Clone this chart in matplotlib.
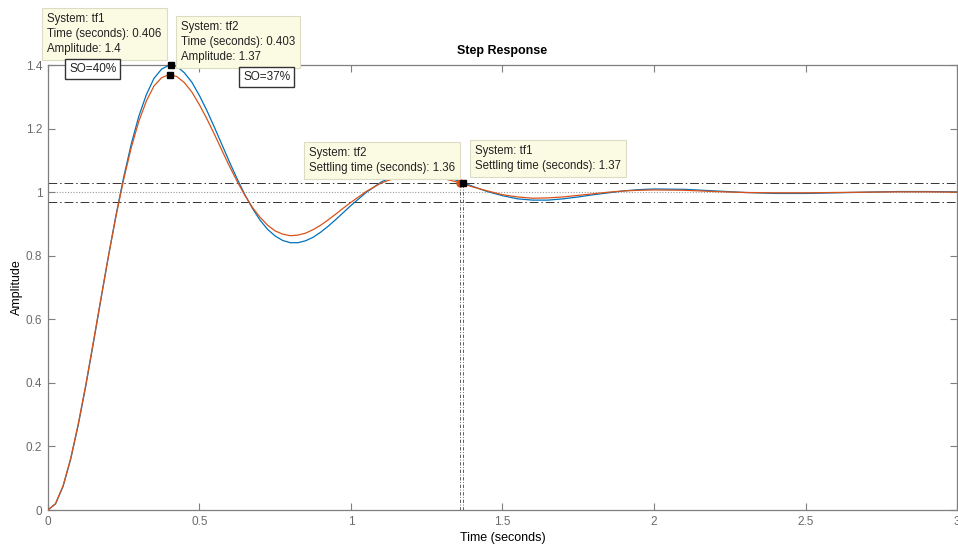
import matplotlib
matplotlib.use("Agg")
import matplotlib.pyplot as plt

plt.rcParams['font.family'] = ['Liberation Sans', 'DejaVu Sans']

# step responses of the two systems
t_fine = [0, 0.025, 0.05, 0.075, 0.1, 0.125, 0.15, 0.175, 0.2, 0.225, 0.25, 0.275,
          0.3, 0.325, 0.35, 0.375, 0.4, 0.425, 0.45, 0.475, 0.5, 0.525, 0.55, 0.575,
          0.6, 0.625, 0.65, 0.675, 0.7, 0.725, 0.75, 0.775, 0.8, 0.825, 0.85, 0.875,
          0.9, 0.925, 0.95, 0.975, 1.0]
t_mid = [1.05, 1.1, 1.15, 1.2, 1.25, 1.3, 1.35, 1.4, 1.45, 1.5, 1.55, 1.6, 1.65,
         1.7, 1.75, 1.8, 1.85, 1.9, 1.95, 2.0]
t_tail = [2.1, 2.2, 2.3, 2.4, 2.5, 2.6, 2.7, 2.8, 2.9, 3.0]
time = t_fine + t_mid + t_tail

tf1 = [0, 0.019, 0.074, 0.159, 0.267, 0.390, 0.525, 0.663, 0.800, 0.929, 1.047,
       1.151, 1.239, 1.307, 1.358, 1.387, 1.400, 1.396, 1.376, 1.346, 1.304, 1.256,
       1.203, 1.148, 1.093, 1.041, 0.992, 0.949, 0.912, 0.883, 0.862, 0.848, 0.841,
       0.841, 0.847, 0.858, 0.874, 0.893, 0.914, 0.936, 0.958,
       0.999, 1.032, 1.054, 1.063, 1.062, 1.052, 1.037, 1.019, 1.002, 0.989, 0.979,
       0.975, 0.975, 0.979, 0.985, 0.992, 0.998, 1.004, 1.008, 1.010,
       1.009, 1.004, 0.999, 0.996, 0.996, 0.998, 1.000, 1.002, 1.002, 1.001]

tf2 = [0, 0.020, 0.076, 0.162, 0.270, 0.394, 0.529, 0.666, 0.800, 0.926, 1.040,
       1.140, 1.223, 1.287, 1.334, 1.360, 1.370, 1.364, 1.345, 1.315, 1.275, 1.230,
       1.181, 1.130, 1.080, 1.033, 0.990, 0.952, 0.921, 0.896, 0.878, 0.868, 0.863,
       0.865, 0.871, 0.882, 0.896, 0.913, 0.931, 0.950, 0.968,
       1.002, 1.029, 1.046, 1.053, 1.052, 1.044, 1.032, 1.017, 1.004, 0.992, 0.985,
       0.981, 0.982, 0.985, 0.990, 0.995, 1.000, 1.004, 1.006, 1.007,
       1.006, 1.002, 0.999, 0.998, 0.998, 0.999, 1.000, 1.001, 1.001, 1.000]

# characteristics reported in the data tips
peak_t = [0.406, 0.403]
peak_y = [1.4, 1.37]
settle_t = [1.37, 1.36]
settle_band = [0.97, 1.03]
overshoot = ['SO=40%', 'SO=37%']

blue = '#0072BD'
orange = '#D95319'
grey = '#7f7f7f'

fig = plt.figure(figsize=(9.58, 5.47), dpi=100)
ax = fig.add_axes([0.050, 0.0676, 0.949, 0.8135])

ax.plot(time, tf1, color=blue, lw=0.9, zorder=3)
ax.plot(time, tf2, color=orange, lw=0.9, zorder=3)

# steady state and settling band
ax.axhline(1.0, color='#9a9a9a', lw=0.8, ls=(0, (1, 1.5)), zorder=1)
for lvl in settle_band:
    ax.axhline(lvl, color='#333333', lw=0.7, ls=(0, (9, 3, 1.5, 3)), zorder=1)
for st in settle_t:
    ax.plot([st, st], [0, settle_band[1]], color='#444444', lw=0.6,
            ls=(0, (4, 2, 1, 2)), zorder=1)

# characteristic markers
ax.plot(settle_t[1], settle_band[1], 'o', ms=5, color=orange, zorder=4)
ax.plot(settle_t[0], settle_band[1], 's', ms=5, color='black', zorder=5)
ax.plot(peak_t, peak_y, 's', ms=5, color='black', zorder=5, clip_on=False)

ax.set_xlim(0, 3)
ax.set_ylim(0, 1.4)
ax.set_xticks([0, 0.5, 1, 1.5, 2, 2.5, 3])
ax.set_xticklabels(['0', '0.5', '1', '1.5', '2', '2.5', '3'])
ax.set_yticks([0, 0.2, 0.4, 0.6, 0.8, 1, 1.2, 1.4])
ax.set_yticklabels(['0', '0.2', '0.4', '0.6', '0.8', '1', '1.2', '1.4'])
ax.tick_params(direction='in', length=5, width=0.8, color=grey, labelcolor='#6a6a6a',
               labelsize=8.5, top=True, right=True, pad=4)
for sp in ax.spines.values():
    sp.set_color(grey)
    sp.set_linewidth(0.9)

ax.set_title('Step Response', fontsize=9, fontweight='bold', pad=8)
ax.set_xlabel('Time (seconds)', fontsize=9, labelpad=3)
ax.set_ylabel('Amplitude', fontsize=9, labelpad=2)

# data tips, placed in figure pixels
W, H = 958, 547
tip = dict(boxstyle='square,pad=0.45', facecolor='#fbfbe4', edgecolor='#dcdcc4', lw=0.8)
so_box = dict(boxstyle='square,pad=0.35', facecolor='white', edgecolor='#333333', lw=1.0)


def place(px, py, s, box, size=8.3, spacing=1.35):
    fig.text(px / W, 1 - py / H, s, ha='left', va='top', fontsize=size,
             color='#222222', linespacing=spacing, bbox=box, zorder=10)


place(47, 13, 'System: tf1\nTime (seconds): %.3f\nAmplitude: %g' % (peak_t[0], peak_y[0]), tip)
place(181, 21, 'System: tf2\nTime (seconds): %.3f\nAmplitude: %g' % (peak_t[1], peak_y[1]), tip)
place(309, 147, 'System: tf2\nSettling time (seconds): %g' % settle_t[1], tip)
place(475, 145, 'System: tf1\nSettling time (seconds): %g' % settle_t[0], tip)
place(69, 63, overshoot[0], so_box, 8.5)
place(243, 71, overshoot[1], so_box, 8.5)

fig.savefig('out.png', dpi=100)
